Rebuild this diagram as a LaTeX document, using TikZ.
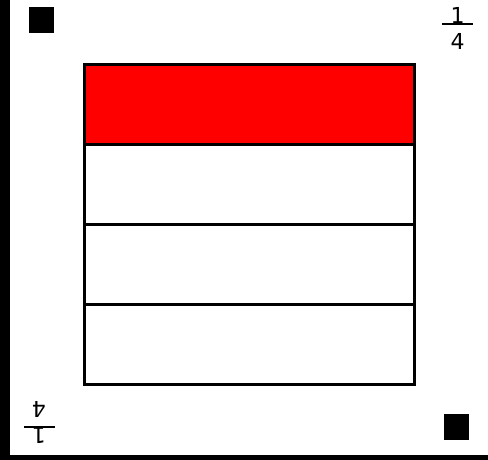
\documentclass[tikz,border=0pt]{standalone}
\usepackage{fontspec}
\setmainfont{DejaVu Sans}
\tikzset{
  px/.style={x=1pt,y=-1pt},
  cell/.style={draw=black,line width=3pt},
  marker/.style={fill=black},
  digit/.style={inner sep=0pt,transform shape,font=\fontsize{22}{22}\selectfont},
  quarter/.pic={
    \node[digit] (-num) at (0,-9) {1};
    \node[digit] (-den) at (0,17) {4};
    \coordinate (-l) at (-15.5,0);
    \coordinate (-r) at (15.5,0);
    \draw[line width=2pt] (-l) -- (-r);
  }
}
\begin{document}
\begin{tikzpicture}[px]
\useasboundingbox (0,0) rectangle (488,460);
\fill[white] (0,0) rectangle (488,460);
% frame bars
\fill[black] (0,0) rectangle (10,460);
\fill[black] (0,455) rectangle (488,460);
% markers
\node[marker,minimum width=25pt,minimum height=26pt,inner sep=0pt] (m1) at (41.5,20) {};
\node[marker,minimum width=25pt,minimum height=26pt,inner sep=0pt] (m2) at (456.5,427) {};
% fraction labels
\pic (fa) at (457.5,24) {quarter};
\pic[rotate=180] (fb) at (39,427) {quarter};
% rows
\node[cell,fill=red,minimum width=330pt,minimum height=80pt,inner sep=0pt,anchor=north west] (r1) at (82.5,63) {};
\node[cell,fill=white,minimum width=330pt,minimum height=80pt,inner sep=0pt,anchor=north west] (r2) at (82.5,143) {};
\node[cell,fill=white,minimum width=330pt,minimum height=80pt,inner sep=0pt,anchor=north west] (r3) at (82.5,223) {};
\node[cell,fill=white,minimum width=330pt,minimum height=80pt,inner sep=0pt,anchor=north west] (r4) at (82.5,303) {};
\end{tikzpicture}
\end{document}
